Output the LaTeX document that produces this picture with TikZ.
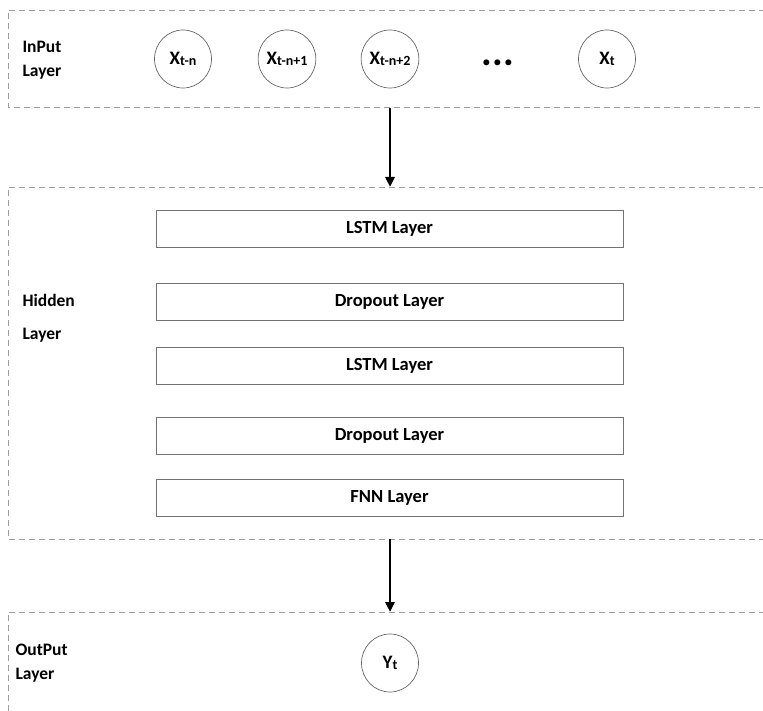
\documentclass[tikz,border=0pt]{standalone}
\usepackage{fontspec}
\setmainfont{Carlito}
\usetikzlibrary{arrows.meta,shapes.geometric}
\tikzset{
  zone/.style={draw=black!38, line width=0.9pt, dash pattern=on 6pt off 4pt},
  lbl/.style={font=\bfseries\fontsize{17.5}{24}\selectfont, align=left, anchor=west},
  unit/.style={draw=black!60, line width=0.7pt, ellipse, minimum width=57pt, minimum height=58pt, inner sep=0pt, font=\bfseries\fontsize{19}{20}\selectfont},
  layerbox/.style={draw=black!55, line width=0.9pt, minimum width=467pt, minimum height=37pt, inner sep=0pt, font=\bfseries\fontsize{18.5}{20}\selectfont},
  flow/.style={line width=2.6pt, -{Triangle[length=10pt,width=9pt]}}
}
\newcommand{\sbx}[1]{{\fontsize{14}{14}\selectfont\raisebox{-1.5pt}{#1}}}
\begin{document}
\begin{tikzpicture}[x=1pt,y=-1pt]
\useasboundingbox (0,0) rectangle (763,711);
% zones
\draw[zone] (775,10) -- (8,10) -- (8,107) -- (775,107);
\draw[zone] (775,187) -- (8,187) -- (8,539) -- (775,539);
\draw[zone] (775,612) -- (8,612) -- (8,720);
% labels
\node[lbl] (inlbl) at (19,60) {InPut\\Layer};
\node[lbl] (hidlbl) at (19,318) {Hidden\\[9pt]Layer};
\node[lbl] (outlbl) at (12,663) {OutPut\\Layer};
% input units
\node[unit] (x1) at (183,59) {X\sbx{t-n}};
\node[unit] (x2) at (287,59) {X\sbx{t-n+1}};
\node[unit] (x3) at (390,59) {X\sbx{t-n+2}};
\node[font=\bfseries\fontsize{40}{40}\selectfont] (dots) at (498,63) {...};
\node[unit] (xt) at (607,59) {X\sbx{t}};
% hidden layers
\node[layerbox] (l1) at (389.5,229) {LSTM Layer};
\node[layerbox] (l2) at (389.5,301.5) {Dropout Layer};
\node[layerbox] (l3) at (389.5,366) {LSTM Layer};
\node[layerbox] (l4) at (389.5,436) {Dropout Layer};
\node[layerbox] (l5) at (389.5,497.5) {FNN Layer};
% output
\node[unit] (yt) at (390,663) {Y\sbx{t}};
% arrows
\coordinate (a1s) at (390,108);
\coordinate (a1e) at (390,187);
\coordinate (a2s) at (390,539);
\coordinate (a2e) at (390,612);
\draw[flow] (a1s) -- (a1e);
\draw[flow] (a2s) -- (a2e);
\end{tikzpicture}
\end{document}
